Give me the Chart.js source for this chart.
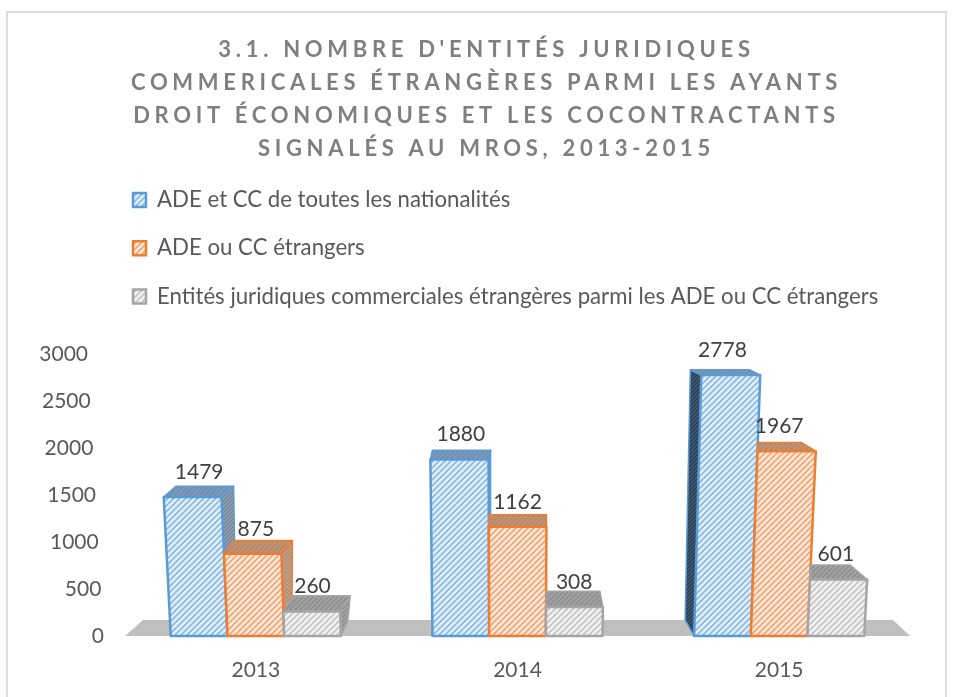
<!DOCTYPE html>
<html lang="fr">
<head>
<meta charset="utf-8">
<style>
html,body{margin:0;padding:0;background:#fff;}
#frame{position:absolute;left:6px;top:11px;width:941px;height:690px;border:2px solid #dcdcdc;box-sizing:border-box;}
#wrap{position:absolute;left:0;top:0;width:956px;height:697px;}
</style>
<script src="https://cdn.jsdelivr.net/npm/chart.js@4/dist/chart.umd.min.js"></script>
</head>
<body>
<div id="frame"></div>
<div id="wrap"><canvas id="c" width="956" height="697"></canvas></div>
<script>
const titleLines = ["3.1. NOMBRE D'ENTITÉS JURIDIQUES","COMMERICALES ÉTRANGÈRES PARMI LES AYANTS","DROIT ÉCONOMIQUES ET LES COCONTRACTANTS","SIGNALÉS AU MROS, 2013-2015"];
const categories = ["2013","2014","2015"];
const seriesNames = ["ADE et CC de toutes les nationalités","ADE ou CC étrangers","Entités juridiques commerciales étrangères parmi les ADE ou CC étrangers"];
const adeCcToutes = [1479,1880,2778];
const adeCcEtrangers = [875,1162,1967];
const entitesEtrangeres = [260,308,601];
const FONT = "Lato, Carlito, sans-serif";

function hatch(bg, line, size, lw){
  const t = document.createElement('canvas'); t.width = t.height = size;
  const g = t.getContext('2d');
  g.fillStyle = bg; g.fillRect(0,0,size,size);
  g.strokeStyle = line; g.lineWidth = lw; g.lineCap='square';
  g.beginPath();
  g.moveTo(-size,size); g.lineTo(size,-size);
  g.moveTo(0,size); g.lineTo(size,0);
  g.moveTo(0,2*size); g.lineTo(2*size,0);
  g.stroke();
  return g.createPattern(t,'repeat');
}
const c = document.getElementById('c');
const styles = [
  {border:'#5b9bd5', front:hatch('#e3f0fb','#8dbbe4',6,1.8), top:hatch('#6f9cc8','#7d8b99',5,1.5), right:hatch('#8d9eb0','#76828e',4,1.2), left:hatch('#3d5f82','#2f3a46',4,1.4)},
  {border:'#ed7d31', front:hatch('#fdeadd','#f2a876',6,1.8), top:hatch('#cc8f66','#a58c7a',5,1.5), right:hatch('#c89b7e','#a88f7e',4,1.2), left:hatch('#a86a40','#7d5a42',4,1.4)},
  {border:'#a5a5a5', front:hatch('#f3f3f3','#c6c6c6',6,1.8), top:hatch('#a3a3a3','#8c8c8c',5,1.5), right:hatch('#a3a3a3','#8c8c8c',4,1.2), left:hatch('#8c8c8c','#777777',4,1.4)}
];
// horizontal offset of the back of each bar, by category then series (perspective of the original)
const depthX = [[12,11,10],[2,0,-3],[-11,-14,-17]];
const VANISH_X = 510, LEAN = 0.00015;

function quad(ctx,p,fill){
  ctx.beginPath();
  ctx.moveTo(p[0][0],p[0][1]);
  for(let i=1;i<p.length;i++) ctx.lineTo(p[i][0],p[i][1]);
  ctx.closePath();
  ctx.fillStyle = fill; ctx.fill();
}
function geom(el,ds,i){
  const h = el.base - el.y;
  const xl = el.x - el.width/2, xr = el.x + el.width/2;
  const tl = xl + h*(xl-VANISH_X)*LEAN, tr = xr + h*(xr-VANISH_X)*LEAN;
  const dx = depthX[i][ds], dy = 17 - 0.045*h;
  return {h,xl,xr,tl,tr,dx,dy,top:el.y,base:el.base};
}
function drawBar3D(ctx,el,ds,i){
  const g = geom(el,ds,i), s = styles[ds];
  ctx.save();
  ctx.lineJoin='round';
  const bly = g.base-16, backY = g.top-g.dy;
  const backL = (g.dx<0 && ds>0) ? g.tl : g.tl+g.dx;
  const backR = g.tr+g.dx;
  if(g.dx>0){
    const p=[[g.tr,g.top],[backR,backY],[g.xr+g.dx*0.7,bly],[g.xr,g.base]];
    quad(ctx,p,s.right); ctx.strokeStyle=s.border; ctx.lineWidth=1.5; ctx.stroke();
  } else if(g.dx<0 && ds===0){
    const p=[[g.tl,g.top],[backL,backY],[g.xl-9,bly],[g.xl,g.base]];
    quad(ctx,p,s.left); ctx.strokeStyle=s.border; ctx.lineWidth=1.5; ctx.stroke();
  }
  quad(ctx,[[g.tl,g.top],[backL,backY],[backR,backY],[g.tr,g.top]],s.top);
  ctx.strokeStyle=s.border; ctx.lineWidth=1.5; ctx.stroke();
  quad(ctx,[[g.xl,g.base],[g.tl,g.top],[g.tr,g.top],[g.xr,g.base]],el.options.backgroundColor);
  ctx.strokeStyle=el.options.borderColor; ctx.lineWidth=el.options.borderWidth; ctx.stroke();
  ctx.restore();
}

const chartPlugin = {
  id:'excel3d',
  afterLayout(chart){
    const t = chart.titleBlock, l = chart.legend;
    t.left = 63; t.right = 910; t.top = 34; t.bottom = t.top + t.height;
    l.left = 107; l.right = 700; l.top = 163; l.bottom = l.top + l.height;
    if(!t._spaced){
      const d = t.draw;
      t.draw = function(){ chart.ctx.letterSpacing='4.7px'; d.call(t); chart.ctx.letterSpacing='0px'; };
      l.draw = function(){ l._draw(); };
      t._spaced = true;
    }
  },
  beforeDraw(chart){
    // y tick labels follow the leaning side of the 3D wall
    chart.scales.y.getLabelItems().forEach(it=>{
      if(!it._lean){
        const v = chart.scales.y.getValueForPixel(it.options.translation[1]);
        it.options.translation[0] -= 16*v/3000;
        it._lean = true;
      }
    });
  },
  beforeDatasetsDraw(chart){
    const a = chart.chartArea, ctx = chart.ctx;
    ctx.save();
    ctx.beginPath();
    ctx.moveTo(a.left,a.bottom); ctx.lineTo(a.left+18,a.bottom-16);
    ctx.lineTo(a.right-17,a.bottom-16); ctx.lineTo(a.right,a.bottom);
    ctx.closePath(); ctx.fillStyle='#bfbfbf'; ctx.fill();
    ctx.restore();
    // near bars overlap far ones: paint the series from first to last
    chart.data.datasets.forEach((d,ds)=>{
      chart.getDatasetMeta(ds).data.forEach((el,i)=>drawBar3D(ctx,el,ds,i));
    });
  },
  beforeDatasetDraw(){ return false; },
  afterDatasetsDraw(chart){
    const ctx = chart.ctx;
    ctx.save();
    ctx.font = "21px "+FONT; ctx.fillStyle='#404040';
    ctx.textAlign='center'; ctx.textBaseline='middle';
    chart.data.datasets.forEach((d,ds)=>{
      chart.getDatasetMeta(ds).data.forEach((el,i)=>{
        const g = geom(el,ds,i);
        ctx.fillText(String(d.data[i]), el.x, g.top-g.dy-(8+g.h*0.045));
      });
    });
    ctx.restore();
  }
};

new Chart(c,{
  type:'bar',
  plugins:[chartPlugin],
  data:{
    labels:categories,
    datasets:[
      {label:seriesNames[0],data:adeCcToutes,backgroundColor:styles[0].front,borderColor:styles[0].border,borderWidth:2.5},
      {label:seriesNames[1],data:adeCcEtrangers,backgroundColor:styles[1].front,borderColor:styles[1].border,borderWidth:2.5},
      {label:seriesNames[2],data:entitesEtrangeres,backgroundColor:styles[2].front,borderColor:styles[2].border,borderWidth:2.5}
    ]
  },
  options:{
    responsive:false,
    animation:false,
    layout:{padding:{left:30,right:46,top:117,bottom:17}},
    datasets:{bar:{categoryPercentage:0.65,barPercentage:1}},
    plugins:{
      tooltip:{enabled:false},
      title:{display:true,text:titleLines,color:'#7f7f7f',padding:0,
        font:{family:FONT,size:22,weight:'bold',lineHeight:'32.7px'}},
      legend:{display:true,position:'top',align:'start',
        labels:{boxWidth:13,boxHeight:14,padding:26,color:'#595959',font:{family:FONT,size:22.2}}}
    },
    scales:{
      x:{grid:{display:false},border:{display:false},afterFit:s=>{s.height=44;},
        ticks:{color:'#595959',padding:14,font:{family:FONT,size:21}}},
      y:{min:0,max:3000,grid:{display:false},border:{display:false},afterFit:s=>{s.width=95;},
        ticks:{stepSize:500,color:'#595959',padding:13,font:{family:FONT,size:21},callback:v=>String(v)}}
    }
  }
});
</script>
</body>
</html>
